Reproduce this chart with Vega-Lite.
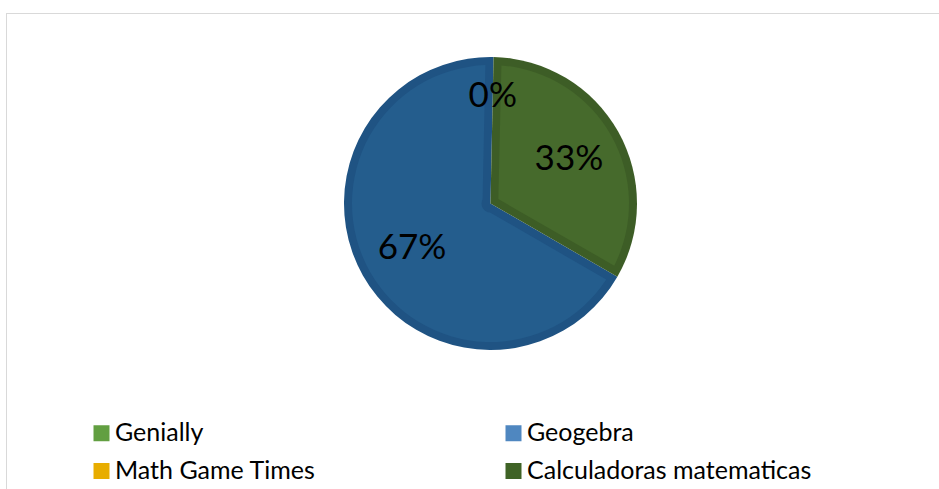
{
  "$schema": "https://vega.github.io/schema/vega-lite/v6.json",
  "width": 940,
  "height": 480,
  "autosize": {"type": "none"},
  "padding": {"left": 6.5, "top": 13.5, "right": 0, "bottom": 0},
  "background": "#ffffff",
  "config": {
    "view": {"stroke": null},
    "font": "Lato"
  },
  "data": {
    "values": [
      {"tool": "Genially", "orden": 1, "pct": 0, "label": "0%"},
      {"tool": "Geogebra", "orden": 2, "pct": 67, "label": "67%"},
      {"tool": "Math Game Times", "orden": 3, "pct": 0, "label": "0%"},
      {"tool": "Calculadoras matematicas", "orden": 4, "pct": 33, "label": "33%"}
    ]
  },
  "encoding": {
    "theta": {"field": "pct", "type": "quantitative", "stack": true, "scale": {"range": [2.0944, 8.3776]}},
    "order": {"field": "orden", "type": "quantitative"}
  },
  "layer": [
    {
      "mark": {"type": "rect", "fill": null, "stroke": "#d9d9d9", "strokeWidth": 1},
      "encoding": {
        "theta": null,
        "order": null,
        "x": {"value": 0},
        "x2": {"value": "width"},
        "y": {"value": 0},
        "y2": {"value": "height"}
      }
    },
    {
      "mark": {"type": "arc", "radius": 146.5, "x": {"expr": "width/2 + 14"}, "y": {"expr": "height/2 - 50"}},
      "encoding": {
        "color": {
          "field": "tool", "type": "nominal",
          "scale": {"domain": ["Genially", "Geogebra", "Math Game Times", "Calculadoras matematicas"], "range": ["#4f7f32", "#1f5383", "#c99500", "#3d5d26"]},
          "legend": null
        }
      }
    },
    {
      "mark": {"type": "arc", "radius": 138.5, "radius2": 9, "padAngle": 0.1156, "x": {"expr": "width/2 + 14"}, "y": {"expr": "height/2 - 50"}},
      "encoding": {
        "color": {
          "field": "tool", "type": "nominal",
          "scale": {"domain": ["Genially", "Geogebra", "Math Game Times", "Calculadoras matematicas"], "range": ["#5a9a3c", "#245d8d", "#e6a800", "#466a2c"]},
          "legend": null
        }
      }
    },
    {
      "mark": {"type": "square", "opacity": 0, "x": 0, "y": 0, "size": 0},
      "encoding": {
        "theta": null,
        "order": null,
        "color": {
          "field": "tool", "type": "nominal",
          "scale": {"domain": ["Genially", "Geogebra", "Math Game Times", "Calculadoras matematicas"], "range": ["#629f41", "#4f87c0", "#e8ad00", "#3f6326"]},
          "legend": {
            "title": null,
            "orient": "none",
            "legendX": 82.5,
            "legendY": 407,
            "columns": 2,
            "direction": "horizontal",
            "padding": 0,
            "symbolType": "square",
            "symbolSize": 256,
            "symbolStrokeWidth": 0,
            "symbolOpacity": 1,
            "labelFontSize": 25,
            "labelFont": "Lato",
            "labelColor": "#000000",
            "labelOffset": 1,
            "labelLimit": 400,
            "rowPadding": 12,
            "columnPadding": 185,
            "gridAlign": "each"
          }
        }
      }
    },
    {
      "mark": {"type": "text", "radius": 90, "fontSize": 35, "font": "Lato", "color": "#000000", "x": {"expr": "width/2 + 14"}, "y": {"expr": "height/2 - 50"}},
      "encoding": {
        "text": {"field": "label"},
        "opacity": {"condition": {"test": "datum.pct > 0", "value": 1}, "value": 0}
      }
    },
    {
      "mark": {"type": "text", "radius": 108, "fontSize": 35, "font": "Lato", "color": "#000000", "x": {"expr": "width/2 + 14"}, "y": {"expr": "height/2 - 50"}},
      "encoding": {
        "text": {"field": "label"},
        "opacity": {"condition": {"test": "datum.tool === 'Math Game Times'", "value": 1}, "value": 0}
      }
    }
  ],
  "resolve": {"scale": {"color": "independent"}}
}
